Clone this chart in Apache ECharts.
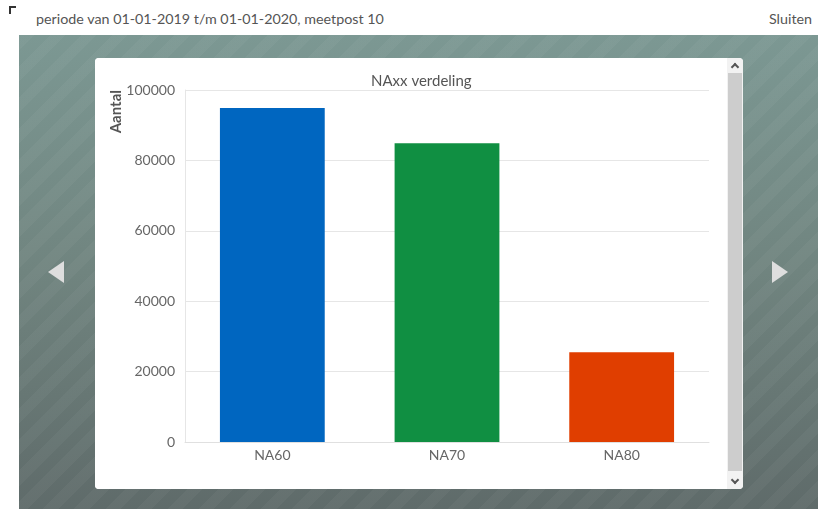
<!DOCTYPE html>
<html>
<head>
<meta charset="utf-8">
<script src="https://cdn.jsdelivr.net/npm/echarts@6/dist/echarts.min.js"></script>
<style>
  html, body { margin: 0; padding: 0; width: 818px; height: 509px; overflow: hidden; background: #fff; font-family: Lato, "Open Sans", sans-serif; }
  #header { position: absolute; left: 0; top: 0; width: 818px; height: 35px; background: #fff; }
  #corner { position: absolute; left: 9px; top: 6px; width: 5px; height: 6px; border-left: 2px solid #333; border-top: 2px solid #333; }
  #period { position: absolute; left: 36px; top: 10px; font-size: 14.3px; color: #555; white-space: nowrap; }
  #close { position: absolute; right: 6px; top: 10px; font-size: 14.3px; color: #555; }
  #bg { position: absolute; left: 19px; top: 35px; width: 799px; height: 474px;
        background:
          repeating-linear-gradient(135deg, rgba(255,255,255,0.035) 0px, rgba(255,255,255,0.035) 11px, rgba(0,0,0,0) 11px, rgba(0,0,0,0) 22px),
          linear-gradient(to bottom, #7c9893 0%, #70847f 50%, #5f6b6a 100%); }
  #panel { position: absolute; left: 95px; top: 58px; width: 648px; height: 431px; background: #fff; border-radius: 4px; overflow: hidden; }
  #chart { position: absolute; left: 0; top: 0; width: 632px; height: 431px; }
  #sbar { position: absolute; left: 632px; top: 0; width: 16px; height: 431px; background: #f2f2f2; }
  #thumb { position: absolute; left: 1px; top: 15px; width: 14px; height: 398px; background: #cdcdcd; }
  .chev { position: absolute; left: 5px; width: 4px; height: 4px; border-left: 2px solid #555; border-top: 2px solid #555; }
  #up { top: 6px; transform: rotate(45deg); }
  #down { top: 419px; transform: rotate(225deg); }
  .arrow { position: absolute; width: 0; height: 0; border-top: 11px solid transparent; border-bottom: 11px solid transparent; }
  #left { left: 48px; top: 261px; border-right: 16px solid #dedede; }
  #right { left: 772px; top: 261px; border-left: 16px solid #dedede; }
</style>
</head>
<body>
<div id="header">
  <div id="corner"></div>
  <div id="period">periode van 01-01-2019 t/m 01-01-2020, meetpost 10</div>
  <div id="close">Sluiten</div>
</div>
<div id="bg"></div>
<div class="arrow" id="left"></div>
<div class="arrow" id="right"></div>
<div id="panel">
  <div id="chart"></div>
  <div id="sbar"><div class="chev" id="up"></div><div id="thumb"></div><div class="chev" id="down"></div></div>
</div>
<script>
var chartTitle = 'NAxx verdeling';
var yAxisName = 'Aantal';
var categories = ['NA60', 'NA70', 'NA80'];
var values = [94900, 84900, 25500];
var barColors = ['#0066c0', '#108f42', '#e03e00'];
var yMin = 0, yMax = 100000, yInterval = 20000;

var chart = echarts.init(document.getElementById('chart'), null, { renderer: 'canvas' });
chart.setOption({
  animation: false,
  backgroundColor: '#fff',
  title: {
    text: chartTitle,
    left: 271, top: 11,
    textStyle: { fontFamily: 'Lato', fontSize: 15, fontWeight: 'normal', color: '#555' }
  },
  grid: { left: 90, right: 18, top: 32, bottom: 47 },
  xAxis: {
    type: 'category',
    data: categories,
    axisLine: { lineStyle: { color: '#e0e0e0', width: 1 } },
    axisTick: { show: false },
    axisLabel: { color: '#666', fontFamily: 'Lato', fontSize: 14, margin: 6 }
  },
  yAxis: {
    type: 'value',
    min: yMin, max: yMax, interval: yInterval,
    axisLine: { show: true, lineStyle: { color: '#e6e6e6', width: 1 } },
    axisTick: { show: false },
    axisLabel: { color: '#666', fontFamily: 'Lato', fontSize: 14, margin: 10, formatter: function (v) { return String(v); } },
    splitLine: { lineStyle: { color: '#e6e6e6', width: 1 } }
  },
  graphic: [{
    type: 'text',
    x: 21, y: 32,
    rotation: Math.PI / 2,
    style: {
      text: yAxisName,
      fill: '#555',
      font: 'bold 15px Lato',
      textAlign: 'right',
      textVerticalAlign: 'middle'
    }
  }],
  series: [{
    type: 'bar',
    barWidth: '60%',
    data: values.map(function (v, i) { return { value: v, itemStyle: { color: barColors[i] } }; })
  }]
});
</script>
</body>
</html>
